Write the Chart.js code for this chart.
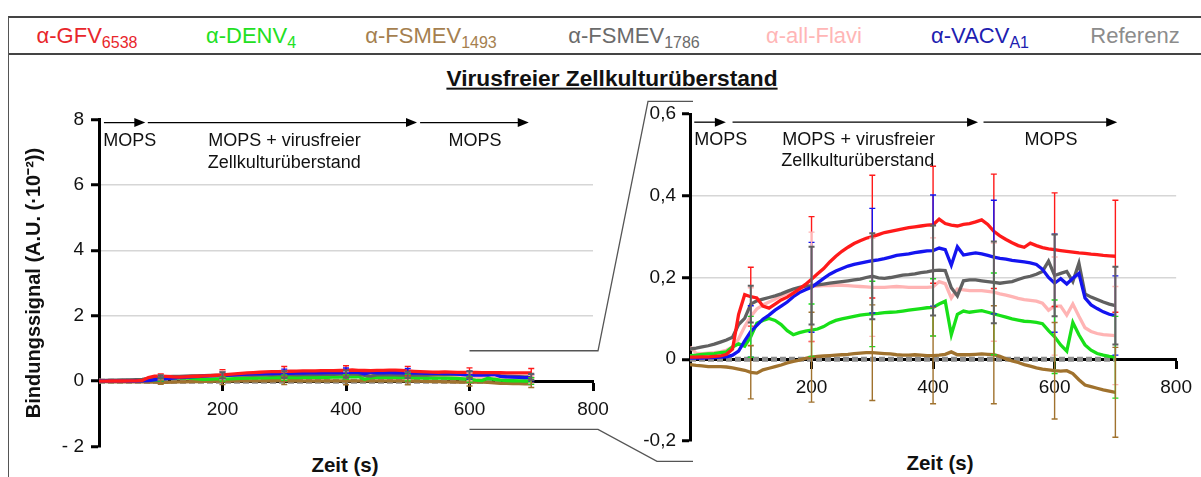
<!DOCTYPE html>
<html lang="de">
<head>
<meta charset="utf-8">
<title>Virusfreier Zellkulturüberstand</title>
<script src="https://cdn.jsdelivr.net/npm/chart.js@4.4.1/dist/chart.umd.min.js"></script>
<style>
    html, body { margin: 0; padding: 0; background: #fff; }
    body { width: 1201px; height: 477px; position: relative; overflow: hidden; font-family: 'Liberation Sans', Arial, sans-serif; color: #111; }
    #legend { position: absolute; left: 8px; top: 16px; width: 1210px; height: 35px; border-top: 2px solid #444; border-bottom: 2px solid #444; border-left: 1.5px solid #555; }
    #legend span { position: absolute; top: 50%; transform: translate(-50%, -48%); font-size: 22px; line-height: 1; white-space: nowrap; }
    #legend sub { font-size: 16px; vertical-align: -5px; line-height: 0; }
    #frame { position: absolute; left: 8px; top: 53px; height: 430px; border-left: 1.5px solid #555; }
    .label { position: absolute; transform: translate(-50%, -50%); font-weight: bold; white-space: nowrap; line-height: 1; }
    #title { left: 612px; top: 78px; font-size: 22.7px; text-decoration: underline; }
    .xtitle { font-size: 20.5px; }
    canvas { position: absolute; top: 90px; }
    #leftChart { left: 0; z-index: 2; }
    #rightChart { left: 600px; z-index: 1; }
</style>
</head>
<body>
<div id="legend"></div>
<div id="frame"></div>
<div id="title" class="label">Virusfreier Zellkulturüberstand</div>
<div class="label xtitle" style="left:345px;top:465px">Zeit (s)</div>
<div class="label xtitle" style="left:940px;top:463px">Zeit (s)</div>
<canvas id="rightChart" width="601" height="387"></canvas>
<canvas id="leftChart" width="700" height="387"></canvas>
<script>
// Zeitachse (s)
const times = [
    0, 10, 20, 30, 40, 50, 60, 70, 80, 90,
    100, 110, 120, 130, 140, 150, 160, 170, 180, 190,
    200, 210, 220, 230, 240, 250, 260, 270, 280, 290,
    300, 310, 320, 330, 340, 350, 360, 370, 380, 390,
    400, 410, 420, 430, 440, 450, 460, 470, 480, 490,
    500, 510, 520, 530, 540, 550, 560, 570, 580, 590,
    600, 610, 620, 630, 640, 650, 660, 670, 680, 690, 700
];

const gfv6538 = [
    0.005, 0.005, 0.006, 0.006, 0.007, 0.008, 0.012, 0.025, 0.11, 0.158,
    0.153, 0.15, 0.13, 0.125, 0.135, 0.145, 0.152, 0.162, 0.172, 0.183,
    0.196, 0.209, 0.222, 0.238, 0.252, 0.264, 0.274, 0.283, 0.29, 0.296,
    0.30, 0.305, 0.31, 0.313, 0.316, 0.319, 0.322, 0.324, 0.326, 0.328,
    0.329, 0.343, 0.332, 0.328, 0.326, 0.33, 0.332, 0.336, 0.341, 0.33,
    0.313, 0.302, 0.293, 0.285, 0.278, 0.274, 0.284, 0.278, 0.273, 0.27,
    0.268, 0.266, 0.264, 0.262, 0.26, 0.259, 0.257, 0.256, 0.254, 0.253, 0.252
];
const denv4 = [
    0.009, 0.01, 0.012, 0.013, 0.014, 0.016, 0.018, 0.03, 0.038, 0.032,
    0.055, 0.088, 0.095, 0.1, 0.095, 0.085, 0.07, 0.06, 0.065, 0.069,
    0.071, 0.074, 0.08, 0.089, 0.095, 0.099, 0.102, 0.105, 0.108, 0.11,
    0.111, 0.112, 0.114, 0.115, 0.116, 0.118, 0.12, 0.122, 0.124, 0.126,
    0.127, 0.135, 0.142, 0.06, 0.11, 0.118, 0.115, 0.117, 0.119, 0.115,
    0.111, 0.107, 0.103, 0.099, 0.096, 0.093, 0.092, 0.09, 0.087, 0.07,
    0.055, 0.035, 0.02, 0.09, 0.06, 0.035, 0.022, 0.014, 0.01, 0.007, 0.005
];
const fsmev1493 = [
    -0.013, -0.015, -0.016, -0.018, -0.018, -0.018, -0.019, -0.021, -0.024, -0.027,
    -0.032, -0.034, -0.026, -0.022, -0.018, -0.014, -0.009, -0.005, -0.002, 0.002,
    0.005, 0.007, 0.008, 0.009, 0.01, 0.011, 0.012, 0.014, 0.015, 0.016,
    0.016, 0.015, 0.014, 0.013, 0.011, 0.01, 0.01, 0.011, 0.01, 0.009,
    0.009, 0.01, 0.012, 0.018, 0.011, 0.011, 0.011, 0.012, 0.013, 0.012,
    0.011, 0.007, 0.001, -0.004, -0.008, -0.013, -0.017, -0.021, -0.024, -0.026,
    -0.028, -0.029, -0.028, -0.035, -0.05, -0.063, -0.067, -0.071, -0.075, -0.078, -0.081
];
const fsmev1786 = [
    0.025, 0.027, 0.03, 0.033, 0.037, 0.042, 0.047, 0.054, 0.085, 0.1,
    0.135, 0.143, 0.147, 0.151, 0.155, 0.16, 0.166, 0.172, 0.176, 0.179,
    0.18, 0.182, 0.184, 0.186, 0.188, 0.19, 0.192, 0.194, 0.196, 0.2,
    0.203, 0.199, 0.198, 0.2, 0.203, 0.206, 0.207, 0.209, 0.212, 0.214,
    0.217, 0.218, 0.217, 0.175, 0.155, 0.192, 0.194, 0.194, 0.192, 0.19,
    0.188, 0.186, 0.188, 0.19, 0.195, 0.2, 0.203, 0.208, 0.215, 0.24,
    0.205, 0.21, 0.215, 0.19, 0.235, 0.16, 0.152, 0.146, 0.14, 0.135, 0.131
];
const allFlavi = [
    0.03, 0.015, 0.014, 0.015, 0.016, 0.018, 0.022, 0.03, 0.05, 0.08,
    0.105, 0.123, 0.133, 0.14, 0.147, 0.155, 0.161, 0.165, 0.169, 0.174,
    0.178, 0.179, 0.18, 0.18, 0.181, 0.181, 0.18, 0.179, 0.178, 0.177,
    0.176, 0.176, 0.176, 0.177, 0.178, 0.177, 0.176, 0.176, 0.176, 0.176,
    0.177, 0.19, 0.185, 0.15, 0.172, 0.17, 0.168, 0.168, 0.168, 0.166,
    0.164, 0.16, 0.157, 0.153, 0.149, 0.146, 0.144, 0.142, 0.137, 0.12,
    0.13, 0.13, 0.108, 0.135, 0.105, 0.077, 0.068, 0.063, 0.06, 0.059, 0.058
];
const vacvA1 = [
    0.003, 0.003, 0.003, 0.004, 0.004, 0.005, 0.006, 0.01, 0.02, 0.045,
    0.068, 0.083, 0.098, 0.108, 0.12, 0.13, 0.14, 0.153, 0.163, 0.17,
    0.176, 0.187, 0.198, 0.208, 0.216, 0.222, 0.228, 0.232, 0.235, 0.238,
    0.241, 0.243, 0.246, 0.25, 0.254, 0.256, 0.258, 0.261, 0.263, 0.265,
    0.266, 0.272, 0.268, 0.23, 0.275, 0.255, 0.258, 0.26, 0.258, 0.254,
    0.25, 0.247, 0.245, 0.242, 0.24, 0.238, 0.236, 0.232, 0.22, 0.2,
    0.186, 0.197, 0.184, 0.198, 0.21, 0.15, 0.133, 0.124, 0.116, 0.11, 0.107
];
const refTimes = [0, 700];
const refValues = [0, 0];

// Fehlerbalken (± Standardabweichung)
const errTimes = [100, 200, 300, 400, 500, 600, 700];
const gfv6538Err = [0.072, 0.153, 0.15, 0.143, 0.14, 0.139, 0.137];
const denv4Err = [0.05, 0.064, 0.08, 0.07, 0.1, 0.09, 0.1];
const fsmev1493Err = [0.065, 0.11, 0.117, 0.118, 0.12, 0.118, 0.11];
const fsmev1786Err = [0.045, 0.095, 0.105, 0.11, 0.1, 0.1, 0.095];
const allFlaviErr = [0.07, 0.133, 0.12, 0.12, 0.12, 0.12, 0.12];
const vacvA1Err = [0.063, 0.11, 0.128, 0.136, 0.139, 0.12, 0.097];

const leftTicksY = [-2, 0, 2, 4, 6, 8];
const rightTicksY = [-0.2, 0, 0.2, 0.4, 0.6];
const ticksX = [200, 400, 600, 800];

const series = [
    { name: 'α-GFV', sub: '6538', values: gfv6538, err: gfv6538Err, color: '#ff1a1a', text: '#e8262b', legendX: 86 },
    { name: 'α-DENV', sub: '4', values: denv4, err: denv4Err, color: '#18e018', text: '#22e022', legendX: 250 },
    { name: 'α-FSMEV', sub: '1493', values: fsmev1493, err: fsmev1493Err, color: '#a0722e', text: '#a57f4f', legendX: 430 },
    { name: 'α-FSMEV', sub: '1786', values: fsmev1786, err: fsmev1786Err, color: '#606060', text: '#6b6b6b', legendX: 633 },
    { name: 'α-all-Flavi', sub: '', values: allFlavi, err: allFlaviErr, color: '#ffb4b4', text: '#ffb6b6', legendX: 813 },
    { name: 'α-VACV', sub: 'A1', values: vacvA1, err: vacvA1Err, color: '#1414f0', text: '#2020b0', legendX: 979 }
];
const reference = { name: 'Referenz', color: '#8c8c8c', legendX: 1134 };

// draw order of the datasets: first one ends up on top
const drawOrder = [0, 5, 3, 1, 4, 2];
const errorOrder = [0, 5, 4, 1, 2, 3];

const legend = document.getElementById('legend');
series.concat([reference]).forEach((s) => {
    const span = document.createElement('span');
    span.style.left = (s.legendX - 8) + 'px';
    span.style.color = s.text || s.color;
    span.textContent = s.name;
    if (s.sub) {
        const sub = document.createElement('sub');
        sub.textContent = s.sub;
        span.appendChild(sub);
    }
    legend.appendChild(span);
});

Chart.defaults.font.family = "'Liberation Sans', Arial, sans-serif";
Chart.defaults.color = '#111';

const makeDatasets = (width) => drawOrder.map((i) => {
    const s = series[i];
    return {
        label: s.name + s.sub,
        data: times.map((t, k) => ({ x: t, y: s.values[k] })),
        borderColor: s.color,
        backgroundColor: s.color,
        borderWidth: width,
        pointRadius: 0,
        tension: 0
    };
}).concat([{
    label: reference.name,
    data: refTimes.map((t, k) => ({ x: t, y: refValues[k] })),
    borderColor: reference.color,
    borderWidth: 5,
    borderDash: [6, 3],
    pointRadius: 0
}]);

const errorBars = {
    id: 'errorBars',
    afterDatasetsDraw(chart) {
        const { ctx, scales: { x, y } } = chart;
        ctx.save();
        errorOrder.forEach((i) => {
            const s = series[i];
            ctx.strokeStyle = s.color;
            ctx.lineWidth = i === 3 ? 2 : 1.4;
            errTimes.forEach((t, k) => {
                const v = s.values[times.indexOf(t)];
                const px = x.getPixelForValue(t);
                const top = y.getPixelForValue(v + s.err[k]);
                const bottom = y.getPixelForValue(v - s.err[k]);
                ctx.beginPath();
                ctx.moveTo(px, top);
                ctx.lineTo(px, bottom);
                ctx.moveTo(px - 3, top);
                ctx.lineTo(px + 3, top);
                ctx.moveTo(px - 3, bottom);
                ctx.lineTo(px + 3, bottom);
                ctx.stroke();
            });
        });
        ctx.restore();
    }
};

const annotations = {
    id: 'annotations',
    afterDraw(chart, args, opts) {
        const { ctx, scales: { x, y } } = chart;
        ctx.save();
        ctx.strokeStyle = '#000';
        ctx.fillStyle = '#000';
        ctx.lineWidth = 1.3;
        const ay = y.getPixelForValue(opts.arrowY);
        opts.arrows.forEach(([from, to]) => {
            const x1 = x.getPixelForValue(from);
            const x2 = x.getPixelForValue(to);
            ctx.beginPath();
            ctx.moveTo(x1, ay);
            ctx.lineTo(x2 - 8, ay);
            ctx.stroke();
            ctx.beginPath();
            ctx.moveTo(x2, ay);
            ctx.lineTo(x2 - 11, ay - 4.5);
            ctx.lineTo(x2 - 11, ay + 4.5);
            ctx.closePath();
            ctx.fill();
        });
        ctx.font = "18px 'Liberation Sans', Arial, sans-serif";
        ctx.textBaseline = 'middle';
        ctx.fillStyle = '#111';
        opts.labels.forEach((l) => {
            ctx.textAlign = l.align;
            ctx.fillText(l.text, x.getPixelForValue(l.x), y.getPixelForValue(l.y));
        });
        ctx.restore();
    }
};

let rightChart = null;

const zoomConnector = {
    id: 'zoomConnector',
    afterDraw(chart, args, opts) {
        if (!rightChart) {
            return;
        }
        const { ctx, scales: { x, y } } = chart;
        const ry = rightChart.scales.y;
        const xStart = x.getPixelForValue(opts.from);
        const xBend = chart.chartArea.right + 5;
        const xEnd = rightChart.chartArea.left + opts.offset + 3;
        ctx.save();
        ctx.strokeStyle = '#555';
        ctx.lineWidth = 1.3;
        ctx.beginPath();
        ctx.moveTo(xStart, y.getPixelForValue(opts.top));
        ctx.lineTo(xBend, y.getPixelForValue(opts.top));
        ctx.lineTo(xEnd - 45, ry.getPixelForValue(opts.rightTop));
        ctx.lineTo(xEnd, ry.getPixelForValue(opts.rightTop));
        ctx.moveTo(xStart, y.getPixelForValue(opts.bottom));
        ctx.lineTo(xBend, y.getPixelForValue(opts.bottom));
        ctx.lineTo(xEnd - 36, ry.getPixelForValue(opts.rightBottom));
        ctx.lineTo(xEnd, ry.getPixelForValue(opts.rightBottom));
        ctx.stroke();
        ctx.restore();
    }
};

const near = (v, list) => list.some((t) => Math.abs(v - t) < 1e-6);

const axisX = {
    type: 'linear',
    min: 0,
    max: 800,
    position: { y: 0 },
    afterFit: (scale) => { scale.height = 0; },
    afterBuildTicks: (scale) => { scale.ticks = ticksX.map((v) => ({ value: v })); },
    ticks: { autoSkip: false, maxRotation: 0, padding: 9, font: { size: 19 }, color: '#111' },
    grid: { drawOnChartArea: false, drawTicks: true, tickLength: 8, tickWidth: 3, tickColor: '#000' },
    border: { display: true, color: '#000', width: 3 }
};

const baseOptions = {
    responsive: false,
    animation: false,
    events: [],
    plugins: { legend: { display: false }, tooltip: { enabled: false } }
};

rightChart = new Chart(document.getElementById('rightChart'), {
    type: 'line',
    data: { datasets: makeDatasets(3.3) },
    plugins: [errorBars, annotations],
    options: {
        ...baseOptions,
        layout: { padding: { left: 0, right: 17, top: 24, bottom: 36 } },
        plugins: {
            ...baseOptions.plugins,
            annotations: {
                arrowY: 0.58,
                arrows: [[7, 59], [70, 474], [483, 703]],
                labels: [
                    { text: 'MOPS', x: 7, y: 0.537, align: 'left' },
                    { text: 'MOPS + virusfreier', x: 152, y: 0.537, align: 'left' },
                    { text: 'Zellkulturüberstand', x: 150, y: 0.484, align: 'left' },
                    { text: 'MOPS', x: 594, y: 0.537, align: 'center' }
                ]
            }
        },
        scales: {
            x: axisX,
            y: {
                min: -0.2,
                max: 0.6,
                afterFit: (scale) => { scale.width = 90; },
                afterBuildTicks: (scale) => { scale.ticks = rightTicksY.map((v) => ({ value: v })); },
                ticks: {
                    padding: 6,
                    font: { size: 19 },
                    color: '#111',
                    callback: (v) => (Math.abs(v) < 1e-9 ? '0' : v.toFixed(1).replace('.', ','))
                },
                grid: {
                    color: (c) => (c.tick && near(c.tick.value, [0.2, 0.4]) ? '#d6d6d6' : 'rgba(0,0,0,0)'),
                    lineWidth: 1.5,
                    tickColor: '#000',
                    tickWidth: 3,
                    tickLength: 8
                },
                border: { color: '#000', width: 3 }
            }
        }
    }
});

new Chart(document.getElementById('leftChart'), {
    type: 'line',
    data: { datasets: makeDatasets(3.3) },
    plugins: [errorBars, annotations, zoomConnector],
    options: {
        ...baseOptions,
        layout: { padding: { left: 0, right: 107, top: 29.3, bottom: 30.3 } },
        plugins: {
            ...baseOptions.plugins,
            annotations: {
                arrowY: 7.9,
                arrows: [[8, 75], [79, 515], [520, 696]],
                labels: [
                    { text: 'MOPS', x: 7, y: 7.35, align: 'left' },
                    { text: 'MOPS + virusfreier', x: 177, y: 7.35, align: 'left' },
                    { text: 'Zellkulturüberstand', x: 176, y: 6.67, align: 'left' },
                    { text: 'MOPS', x: 609, y: 7.35, align: 'center' }
                ]
            },
            zoomConnector: { from: 600, top: 0.93, bottom: -1.47, rightTop: 0.631, rightBottom: -0.25, offset: 600 }
        },
        scales: {
            x: axisX,
            y: {
                min: -2,
                max: 8,
                afterFit: (scale) => { scale.width = 99; },
                afterBuildTicks: (scale) => { scale.ticks = leftTicksY.map((v) => ({ value: v })); },
                ticks: {
                    padding: 7,
                    font: { size: 19 },
                    color: '#111',
                    callback: (v) => (v < 0 ? '- ' + Math.abs(v) : String(v))
                },
                grid: {
                    color: (c) => (c.tick && near(c.tick.value, [2, 4, 6]) ? '#d6d6d6' : 'rgba(0,0,0,0)'),
                    lineWidth: 1.5,
                    tickColor: '#000',
                    tickWidth: 3,
                    tickLength: 8
                },
                border: { color: '#000', width: 3 },
                title: {
                    display: true,
                    text: 'Bindungssignal (A.U. (·10⁻²))',
                    font: { size: 20, weight: 'bold' },
                    color: '#111',
                    padding: { top: 22, bottom: 0 }
                }
            }
        }
    }
});
</script>
</body>
</html>
